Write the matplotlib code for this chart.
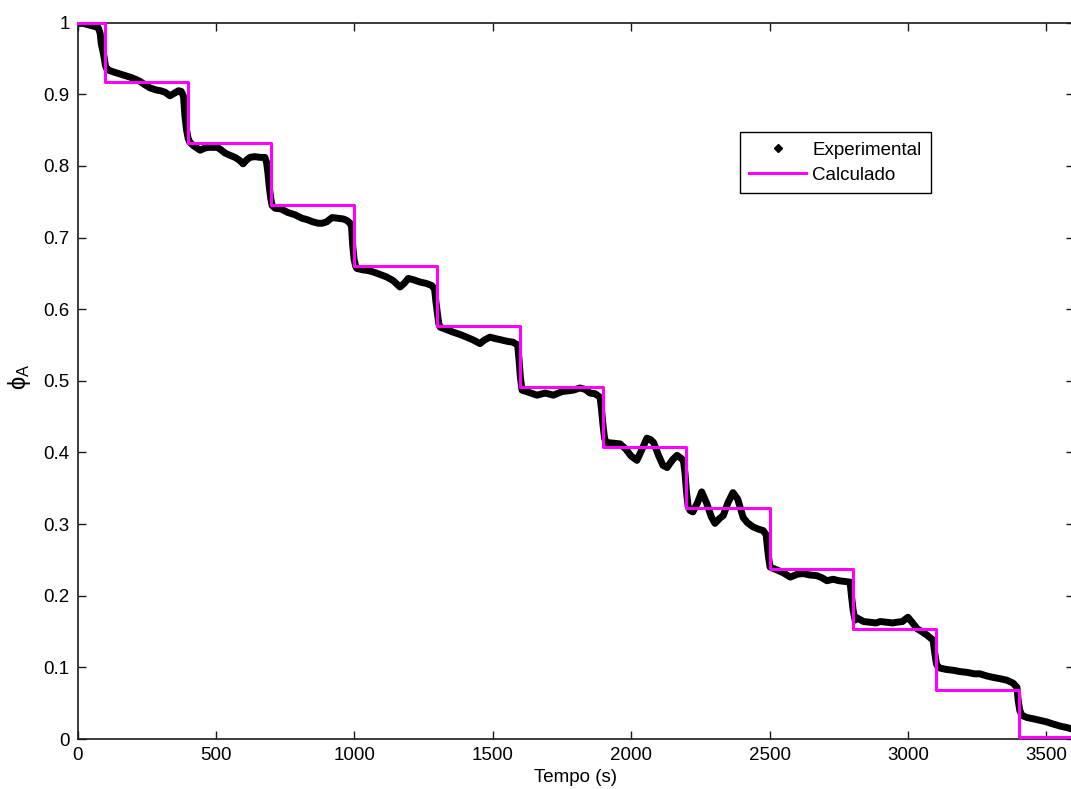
import matplotlib
matplotlib.use("Agg")
import matplotlib.pyplot as plt
from matplotlib.lines import Line2D

# ---------------- data ----------------
t_exp = [0, 20, 40, 60, 75, 82, 86, 92, 97, 101, 105, 117, 140, 165, 190, 210, 226, 245,
         262, 285, 300, 316, 334, 352, 365, 375, 383, 388, 394, 400, 406, 420, 443, 460,
         475, 490, 505, 520, 533, 550, 569, 585, 598, 610, 623, 640, 660, 677, 683, 688,
         693, 698, 703, 714, 735, 760, 785, 811, 830, 850, 870, 884, 900, 920, 940, 960,
         973, 985, 990, 994, 999, 1005, 1009, 1030, 1050, 1068, 1090, 1117, 1140, 1165,
         1180, 1195, 1215, 1237, 1260, 1280, 1290, 1295, 1300, 1305, 1310, 1330, 1357,
         1380, 1406, 1430, 1454, 1470, 1490, 1510, 1533, 1555, 1573, 1590, 1595, 1600,
         1606, 1630, 1660, 1690, 1719, 1750, 1791, 1815, 1835, 1851, 1870, 1888, 1893,
         1898, 1904, 1910, 1935, 1960, 1980, 2000, 2021, 2040, 2057, 2070, 2081, 2100,
         2115, 2130, 2150, 2166, 2180, 2189, 2195, 2200, 2206, 2213, 2223, 2240, 2255,
         2273, 2290, 2303, 2320, 2333, 2350, 2368, 2385, 2405, 2420, 2441, 2460, 2477,
         2488, 2493, 2498, 2502, 2527, 2550, 2575, 2600, 2621, 2645, 2671, 2690, 2707,
         2730, 2750, 2770, 2791, 2796, 2802, 2809, 2816, 2840, 2863, 2885, 2900, 2924,
         2945, 2960, 2980, 3000, 3015, 3033, 3050, 3069, 3085, 3091, 3097, 3103, 3110,
         3116, 3140, 3163, 3190, 3214, 3240, 3260, 3285, 3308, 3335, 3358, 3380, 3394,
         3398, 3404, 3412, 3430, 3455, 3477, 3500, 3524, 3550, 3574, 3600]
v_exp = [0.999, 0.999, 0.997, 0.995, 0.993, 0.985, 0.970, 0.960, 0.950, 0.940, 0.936, 0.933,
         0.930, 0.927, 0.924, 0.921, 0.918, 0.913, 0.909, 0.906, 0.905, 0.903, 0.898, 0.902,
         0.905, 0.904, 0.897, 0.870, 0.850, 0.838, 0.833, 0.828, 0.822, 0.825, 0.826, 0.826,
         0.826, 0.822, 0.818, 0.815, 0.812, 0.808, 0.803, 0.808, 0.812, 0.813, 0.812, 0.812,
         0.805, 0.790, 0.770, 0.755, 0.745, 0.741, 0.740, 0.735, 0.732, 0.727, 0.725, 0.722,
         0.720, 0.720, 0.722, 0.728, 0.727, 0.726, 0.724, 0.720, 0.715, 0.690, 0.670, 0.660,
         0.657, 0.655, 0.654, 0.652, 0.649, 0.645, 0.640, 0.631, 0.636, 0.643, 0.641, 0.638,
         0.636, 0.633, 0.628, 0.610, 0.595, 0.580, 0.575, 0.572, 0.568, 0.565, 0.561, 0.557,
         0.552, 0.557, 0.561, 0.559, 0.557, 0.555, 0.554, 0.550, 0.530, 0.505, 0.487, 0.484,
         0.480, 0.483, 0.480, 0.485, 0.487, 0.490, 0.488, 0.483, 0.482, 0.477, 0.460, 0.440,
         0.420, 0.414, 0.413, 0.412, 0.405, 0.395, 0.389, 0.405, 0.420, 0.418, 0.414, 0.395,
         0.382, 0.379, 0.390, 0.396, 0.392, 0.389, 0.370, 0.345, 0.325, 0.319, 0.317, 0.330,
         0.345, 0.329, 0.310, 0.301, 0.308, 0.312, 0.330, 0.344, 0.335, 0.309, 0.302, 0.296,
         0.293, 0.291, 0.285, 0.265, 0.250, 0.240, 0.236, 0.232, 0.226, 0.230, 0.231, 0.229,
         0.228, 0.225, 0.221, 0.223, 0.221, 0.220, 0.219, 0.200, 0.180, 0.166, 0.169, 0.164,
         0.163, 0.162, 0.164, 0.163, 0.162, 0.163, 0.164, 0.170, 0.163, 0.154, 0.150, 0.145,
         0.140, 0.138, 0.120, 0.105, 0.100, 0.099, 0.097, 0.096, 0.094, 0.093, 0.091, 0.091,
         0.088, 0.086, 0.084, 0.082, 0.078, 0.072, 0.055, 0.040, 0.033, 0.030, 0.028, 0.026,
         0.024, 0.021, 0.018, 0.016, 0.013]

t_calc = [0, 100, 400, 700, 1000, 1300, 1600, 1900, 2200, 2500, 2800, 3100, 3400, 3600]
v_calc = [1.0, 0.917, 0.832, 0.746, 0.661, 0.577, 0.492, 0.407, 0.322, 0.238, 0.153,
          0.068, 0.003, 0.003]

x_ticks = [0, 500, 1000, 1500, 2000, 2500, 3000, 3500]
y_ticks = [0, 0.1, 0.2, 0.3, 0.4, 0.5, 0.6, 0.7, 0.8, 0.9, 1]
y_tick_labels = ["0", "0.1", "0.2", "0.3", "0.4", "0.5", "0.6", "0.7", "0.8", "0.9", "1"]
labels = ["Experimental", "Calculado"]

# ---------------- style ----------------
plt.rcParams["font.family"] = ["Liberation Sans", "DejaVu Sans"]
plt.rcParams["mathtext.fontset"] = "custom"
plt.rcParams["mathtext.rm"] = "Liberation Sans"
plt.rcParams["mathtext.it"] = "Liberation Sans"
plt.rcParams["font.size"] = 13.5

W, H = 1071, 789
fig = plt.figure(figsize=(W / 100, H / 100), dpi=100)
left, right, top, bottom = 77.5, 1074.0, 22.7, 739.0
ax = fig.add_axes([left / W, 1 - bottom / H, (right - left) / W, (bottom - top) / H])

ink = "#1a1a1a"
ax.plot(t_exp, v_exp, color="black", lw=5.0, solid_joinstyle="round",
        solid_capstyle="round", zorder=2)
ax.plot(t_exp, v_exp, ls="none", marker=".", ms=4, color="black", zorder=2)
ax.step(t_calc, v_calc, where="post", color="#ff00ff", lw=2.2, zorder=3, clip_on=False)

ax.set_xlim(0, 3600)
ax.set_ylim(0, 1)
ax.set_xticks(x_ticks)
ax.set_yticks(y_ticks)
ax.set_yticklabels(y_tick_labels)
ax.tick_params(direction="in", length=6, width=1.0, top=True, right=True,
               colors=ink, labelcolor="black", labelsize=13.5)
ax.tick_params(axis="x", pad=6)
ax.tick_params(axis="y", pad=5.5)
for s in ax.spines.values():
    s.set_linewidth(1.2)
    s.set_color(ink)

ax.set_xlabel("Tempo (s)", fontsize=13.5, labelpad=3)
ax.set_ylabel(r"$\phi_{\mathrm{A}}$", fontsize=17)
ax.yaxis.set_label_coords((33 - left) / (right - left), 0.505)

handles = [Line2D([], [], ls="none", marker="D", ms=4, color="black"),
           Line2D([], [], color="#ff00ff", lw=2.2)]
leg = fig.legend(handles, labels, loc="upper left",
                 bbox_to_anchor=(740 / W, 1 - 132.3 / H), borderaxespad=0,
                 frameon=True, fancybox=False, framealpha=1, edgecolor="black",
                 handlelength=3.0, handletextpad=0.35, labelspacing=0.42,
                 borderpad=0.5, fontsize=13.5)
leg.get_frame().set_linewidth(1.0)

fig.savefig("out.png", dpi=100)
